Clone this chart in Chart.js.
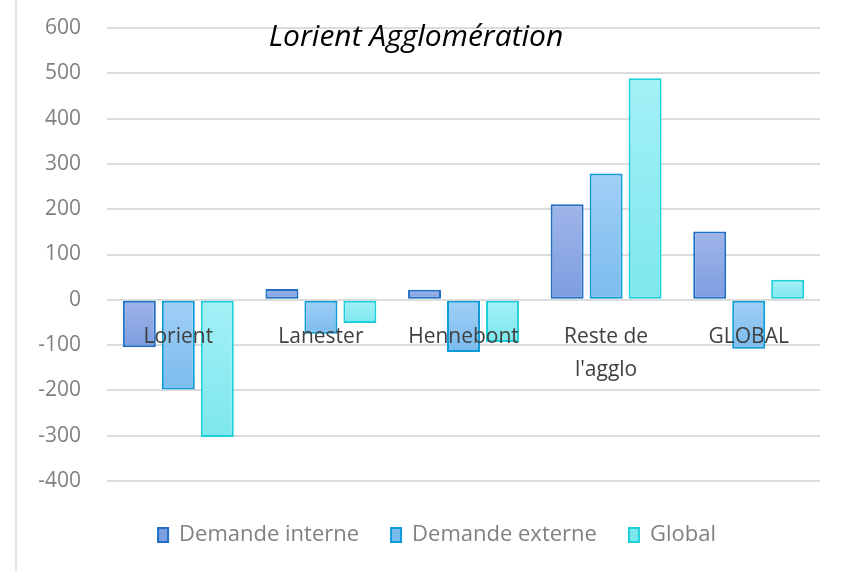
<!DOCTYPE html>
<html>
<head>
<meta charset="utf-8">
<script src="https://cdn.jsdelivr.net/npm/chart.js@4"></script>
<style>
    body { margin: 0; background: #fff; }
    canvas { display: block; }
</style>
</head>
<body>
<canvas id="demandeChart" width="847" height="571"></canvas>
<script>
// Data
const categories = ["Lorient", "Lanester", "Hennebont", ["Reste de", "l'agglo"], "GLOBAL"];
const demandeInterne = [-105, 24, 22, 211, 151];
const demandeExterne = [-198, -75, -115, 279, -108];
const globalValues = [-303, -51, -93, 489, 44];
const seriesNames = ["Demande interne", "Demande externe", "Global"];

const FONT = "'Open Sans', 'Noto Sans', sans-serif";

// vertical gradient per bar, lighter at the top edge
function barGradient(top, bottom, solid) {
    return (context) => {
        if (context.type !== "data") return solid;
        const chart = context.chart;
        const yScale = chart.scales.y;
        if (!yScale || !chart.chartArea) return solid;
        const v = context.parsed ? context.parsed.y : context.raw;
        const p1 = yScale.getPixelForValue(v);
        const p0 = yScale.getPixelForValue(0);
        const g = chart.ctx.createLinearGradient(0, Math.min(p0, p1), 0, Math.max(p0, p1));
        g.addColorStop(0, top);
        g.addColorStop(1, bottom);
        return g;
    };
}

// title drawn inside the plot area, plus the thin frame line on the left
const decorations = {
    id: "decorations",
    afterLayout(chart) {
        // let the y tick labels use the space left of the axis box
        chart.scales.y.left = 0;
    },
    beforeDraw(chart) {
        const ctx = chart.ctx;
        ctx.save();
        ctx.strokeStyle = "#d9d9d9";
        ctx.lineWidth = 1.5;
        ctx.beginPath();
        ctx.moveTo(16, 0);
        ctx.lineTo(16, chart.height);
        ctx.stroke();
        ctx.restore();
    },
    afterDraw(chart) {
        const ctx = chart.ctx;
        ctx.save();
        ctx.fillStyle = "#000";
        ctx.font = "italic 30px " + FONT;
        ctx.textAlign = "center";
        ctx.textBaseline = "alphabetic";
        ctx.fillText("Lorient Agglomération", 416, 46);
        ctx.restore();
    }
};

const ctx = document.getElementById("demandeChart").getContext("2d");

new Chart(ctx, {
    type: "bar",
    data: {
        labels: categories,
        datasets: [
            {
                label: seriesNames[0],
                data: demandeInterne,
                backgroundColor: barGradient("#9fb5e9", "#7c9ddf", "#90abe5"),
                borderColor: "#1f6fc6"
            },
            {
                label: seriesNames[1],
                data: demandeExterne,
                backgroundColor: barGradient("#a0cff6", "#7bbcee", "#8fc6f2"),
                borderColor: "#0e9bd8"
            },
            {
                label: seriesNames[2],
                data: globalValues,
                backgroundColor: barGradient("#a3f1f6", "#7de7ee", "#92ecf2"),
                borderColor: "#1dcfd9"
            }
        ]
    },
    options: {
        responsive: false,
        animation: false,
        categoryPercentage: 0.82,
        barPercentage: 0.846,
        datasets: {
            bar: {
                borderWidth: 2,
                borderSkipped: false
            }
        },
        layout: {
            padding: { left: 54, right: 27, top: 28, bottom: 15 }
        },
        scales: {
            x: {
                position: { y: 0 },
                grid: { display: false, drawTicks: false },
                border: { display: false },
                ticks: {
                    z: 1, // labels sit on top of the bars, like the original
                    color: "#404040",
                    padding: 20,
                    maxRotation: 0,
                    autoSkip: false,
                    font: { family: FONT, size: 21, lineHeight: 1.6 }
                }
            },
            y: {
                min: -400,
                max: 600,
                afterFit(scale) { scale.width = 53; },
                grid: {
                    color: "#dcdcdc",
                    lineWidth: 2,
                    drawTicks: true,
                    tickLength: 24,
                    tickColor: "rgba(0,0,0,0)"
                },
                border: { display: false },
                ticks: {
                    stepSize: 100,
                    color: "#808080",
                    padding: 2,
                    font: { family: FONT, size: 21 }
                }
            }
        },
        plugins: {
            legend: {
                position: "bottom",
                title: { display: true, text: "", padding: 0, font: { size: 11, lineHeight: 1 } },
                labels: {
                    boxWidth: 10,
                    boxHeight: 14,
                    padding: 32,
                    color: "#808080",
                    font: { family: FONT, size: 22 }
                }
            },
            tooltip: { enabled: false }
        }
    },
    plugins: [decorations]
});
</script>
</body>
</html>
